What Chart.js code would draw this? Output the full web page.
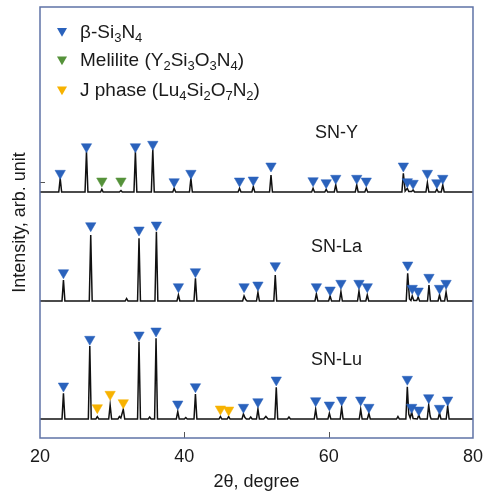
<!DOCTYPE html>
<html>
<head>
<meta charset="utf-8">
<script src="https://cdn.jsdelivr.net/npm/chart.js@4/dist/chart.umd.min.js"></script>
<style>
  html, body { margin: 0; padding: 0; background: #ffffff; }
  #wrap { width: 491px; height: 494px; position: relative; }
</style>
</head>
<body>
<div id="wrap"><canvas id="c"></canvas></div>
<script>
// ---------------- data (2θ in degrees, intensity in arbitrary offset units) ----------------
const xTickValues = [20, 40, 60, 80];
const yTickValues = [137, 256];

const sampleNames = ['SN-Y', 'SN-La', 'SN-Lu'];

// XRD traces: [2θ, intensity]
const traceSNY = [
  [20,246],[22.6,246],[22.8,259.7],[23.0,246],[26.24,246],[26.44,286.3],[26.64,246],
  [28.4,246],[28.57,248.7],[28.75,246],[31.0,246],[31.22,247.5],[31.4,246],
  [33.02,246],[33.22,286.3],[33.42,246],[35.43,246],[35.63,288.7],[35.83,246],
  [38.4,246],[38.59,249.7],[38.8,246],[40.71,246],[40.91,259.7],[41.11,246],
  [47.45,246],[47.65,249.7],[47.85,246],[49.36,246],[49.56,251.3],[49.76,246],
  [51.81,246],[52.01,263],[52.21,246],[57.64,246],[57.84,249.7],[58.04,246],
  [59.46,246],[59.66,248.7],[59.86,246],[60.78,246],[60.98,253],[61.18,246],
  [63.69,246],[63.89,253],[64.09,246],[65.01,246],[65.21,249.7],[65.41,246],
  [70.15,246],[70.35,264.7],[70.6,247],[70.9,249.7],[71.1,246.5],[71.5,246.5],[71.7,248],[71.9,246],
  [73.48,246],[73.68,255.3],[73.88,246],[74.8,246],[74.99,249],[75.2,246],
  [75.61,246],[75.81,253],[76.01,246],[80,246]
];
const traceSNLa = [
  [20,137],[23.05,137],[23.25,158],[23.45,137],[26.83,137],[27.03,203],[27.23,137],
  [31.8,137],[32.0,139.5],[32.2,137],
  [33.52,137],[33.72,199.7],[33.92,137],[35.93,137],[36.13,206.3],[36.33,137],
  [38.98,137],[39.18,143],[39.38,137],[41.34,137],[41.54,159.7],[41.74,137],
  [48.08,137],[48.28,142],[48.5,138.5],[48.7,137],[50.0,137],[50.2,145.7],[50.4,137],
  [52.4,137],[52.6,163],[52.8,137],[58.1,137],[58.3,144],[58.5,137],
  [60.0,137],[60.2,142],[60.4,137],[61.5,137],[61.7,146.3],[61.9,137],
  [64.0,137],[64.2,147],[64.4,137],[65.15,137],[65.35,143],[65.55,137],
  [70.75,137],[70.95,164.7],[71.2,139],[71.4,137.5],[71.58,142],[71.8,137.5],
  [72.2,137.5],[72.4,141],[72.6,137],[73.7,137],[73.9,153],[74.1,137],
  [75.16,137],[75.36,143],[75.56,137],[76.07,137],[76.27,146],[76.47,137],[80,137]
];
const traceSNLu = [
  [20,19],[23.05,19],[23.25,44.7],[23.45,19],[26.7,19],[26.9,92],[27.1,19],
  [27.75,19],[27.94,21.3],[28.15,19],[29.52,19],[29.72,33],[29.92,19],
  [30.8,19],[31.0,21.5],[31.2,20],[31.54,28.7],[31.74,19],
  [33.52,19],[33.72,96.3],[33.92,19],[35.0,19],[35.2,21],[35.4,19],
  [35.88,19],[36.08,99.7],[36.28,19],[38.89,19],[39.09,26.3],[39.29,19],
  [40.0,19],[40.2,20.5],[40.4,19],[41.34,19],[41.54,44],[41.74,19],
  [44.8,19],[45.0,21.5],[45.2,19],[45.94,19],[46.14,21.5],[46.34,19],
  [47.99,19],[48.19,24],[48.4,20.5],[48.6,19],[49.0,19],[49.2,21],[49.4,19],
  [50.0,19],[50.2,29],[50.4,19],[51.0,19],[51.3,21.5],[51.6,19],
  [52.54,19],[52.74,50.7],[52.94,19],[54.3,19],[54.5,21],[54.7,19],
  [58.0,19],[58.2,28.7],[58.4,19],[59.9,19],[60.1,24.7],[60.3,19],
  [61.6,19],[61.8,30.7],[62.0,19],[64.24,19],[64.44,28.7],[64.64,19],
  [65.37,19],[65.57,24.7],[65.77,19],[69.4,19],[69.6,21.5],[69.8,19],
  [70.7,19],[70.9,51.3],[71.1,24],[71.3,20],[71.5,26],[71.7,19.5],
  [72.29,19],[72.49,23],[72.69,19],[73.66,19],[73.86,33],[74.06,22],[74.2,19],
  [75.16,19],[75.36,25],[75.56,19],[76.29,19],[76.49,32],[76.69,19],[80,19]
];

// phase markers: [2θ, marker height]
const betaSNY = [
  [22.8,264.7],[26.44,291.3],[33.22,291.3],[35.63,293.7],[38.59,256.3],[40.91,264.7],
  [47.65,257],[49.56,258],[52.01,272],[57.84,257.3],[59.66,255.3],[60.98,259.7],
  [63.89,259.7],[65.21,257],[70.35,272],[70.9,256.3],[71.7,254.7],[73.68,264.7],
  [74.99,255.3],[75.81,259.7]
];
const meliliteSNY = [[28.57,257],[31.22,257]];
const betaSNLa = [
  [23.25,165.3],[27.03,212.3],[33.72,208],[36.13,213],[39.18,151.3],[41.54,166.3],
  [48.28,151.3],[50.2,153],[52.6,172.3],[58.3,151.3],[60.2,148],[61.7,154.7],
  [64.2,154.7],[65.35,151.3],[70.95,173],[71.58,149.7],[72.4,147],[73.9,160.7],
  [75.36,149.7],[76.27,154.7]
];
const betaSNLu = [
  [23.25,52],[26.9,98.7],[33.72,103],[36.08,107],[39.09,34],[41.54,51.3],
  [48.19,30.7],[50.2,36.3],[52.74,58],[58.2,37.3],[60.1,33],[61.8,38],
  [64.44,38],[65.57,30.7],[70.9,58.7],[71.5,30.7],[72.49,28],[73.86,40.3],
  [75.36,29.7],[76.49,38]
];
const jPhaseSNLu = [[27.94,30.3],[29.72,43.7],[31.54,35.3],[45.0,29],[46.14,28]];

// legend texts: segments of [text, isSubscript]
const legendTexts = [
  [['β-Si',0],['3',1],['N',0],['4',1]],
  [['Melilite (Y',0],['2',1],['Si',0],['3',1],['O',0],['3',1],['N',0],['4',1],[')',0]],
  [['J phase (Lu',0],['4',1],['Si',0],['2',1],['O',0],['7',1],['N',0],['2',1],[')',0]]
];

// ---------------- styles / placement ----------------
const FONT = '"Liberation Sans", Arial, Helvetica, sans-serif';
const TEXT_COLOR = '#1a1a1a';
const phaseColors = ['#2a62bc', '#55923a', '#f7b200'];
const sampleLabelAt = [[61.1, 305], [61.1, 191.3], [61.1, 78]];

const toXY = arr => arr.map(p => ({ x: p[0], y: p[1] }));

function trace(label, arr) {
  return {
    type: 'line', label, data: toXY(arr),
    borderColor: '#111111', borderWidth: 1.5, pointRadius: 0, tension: 0, fill: false, order: 2
  };
}
function markers(label, arr, color) {
  return {
    type: 'scatter', label, data: toXY(arr),
    pointStyle: 'triangle', rotation: 180, pointRadius: 6, pointHoverRadius: 6,
    backgroundColor: color, borderColor: color, borderWidth: 0.5, order: 1
  };
}

const overlay = {
  id: 'overlay',
  afterDraw(chart) {
    const { ctx, chartArea: a, scales: { x, y } } = chart;
    ctx.save();
    // inward tick marks
    ctx.strokeStyle = '#555555';
    ctx.lineWidth = 1;
    xTickValues.forEach(v => {
      if (v === x.min || v === x.max) return;
      const px = Math.round(x.getPixelForValue(v)) + 0.5;
      ctx.beginPath(); ctx.moveTo(px, a.bottom); ctx.lineTo(px, a.bottom - 6); ctx.stroke();
    });
    yTickValues.forEach(v => {
      const py = Math.round(y.getPixelForValue(v)) + 0.5;
      ctx.beginPath(); ctx.moveTo(a.left, py); ctx.lineTo(a.left + 5, py); ctx.stroke();
    });
    // frame
    ctx.strokeStyle = '#5f73a6';
    ctx.lineWidth = 1.5;
    ctx.strokeRect(a.left, a.top, a.right - a.left, a.bottom - a.top);
    // sample names
    ctx.fillStyle = TEXT_COLOR;
    ctx.font = '18px ' + FONT;
    ctx.textAlign = 'center';
    ctx.textBaseline = 'middle';
    sampleNames.forEach((n, i) => {
      ctx.fillText(n, x.getPixelForValue(sampleLabelAt[i][0]), y.getPixelForValue(sampleLabelAt[i][1]));
    });
    // legend
    const baselines = [30.5, 59, 89];
    ctx.textAlign = 'left';
    ctx.textBaseline = 'alphabetic';
    legendTexts.forEach((segs, i) => {
      const by = a.top + baselines[i];
      const tx = a.left + 22, ty = by - 6.5, r = 5.8;
      ctx.fillStyle = phaseColors[i];
      ctx.beginPath();
      ctx.moveTo(tx - r * 0.866, ty - r * 0.5);
      ctx.lineTo(tx + r * 0.866, ty - r * 0.5);
      ctx.lineTo(tx, ty + r);
      ctx.closePath();
      ctx.fill();
      let cx = a.left + 40;
      ctx.fillStyle = TEXT_COLOR;
      segs.forEach(([t, sub]) => {
        ctx.font = (sub ? '13px ' : '19px ') + FONT;
        ctx.fillText(t, cx, sub ? by + 4 : by);
        cx += ctx.measureText(t).width;
      });
    });
    ctx.restore();
  }
};

new Chart(document.getElementById('c'), {
  data: {
    datasets: [
      trace('SN-Y', traceSNY),
      trace('SN-La', traceSNLa),
      trace('SN-Lu', traceSNLu),
      markers('β-Si3N4 (SN-Y)', betaSNY, phaseColors[0]),
      markers('Melilite (SN-Y)', meliliteSNY, phaseColors[1]),
      markers('β-Si3N4 (SN-La)', betaSNLa, phaseColors[0]),
      markers('β-Si3N4 (SN-Lu)', betaSNLu, phaseColors[0]),
      markers('J phase (SN-Lu)', jPhaseSNLu, phaseColors[2])
    ]
  },
  options: {
    responsive: true,
    maintainAspectRatio: false,
    animation: false,
    events: [],
    layout: { padding: { top: 7, right: 12, left: 0, bottom: 0 } },
    plugins: { legend: { display: false }, tooltip: { enabled: false } },
    scales: {
      x: {
        type: 'linear', min: 20, max: 80,
        afterBuildTicks: s => { s.ticks = xTickValues.map(v => ({ value: v })); },
        afterFit: s => { s.height = 56; },
        ticks: { font: { size: 18, family: FONT }, color: TEXT_COLOR, padding: 8, maxRotation: 0, autoSkip: false },
        grid: { display: false, drawTicks: false },
        border: { display: false },
        title: { display: true, text: '2θ, degree', font: { size: 18, family: FONT }, color: TEXT_COLOR, padding: { top: 0, bottom: 1 } }
      },
      y: {
        type: 'linear', min: 0, max: 431,
        afterBuildTicks: s => { s.ticks = yTickValues.map(v => ({ value: v })); },
        afterFit: s => { s.width = 40; },
        ticks: { display: false },
        grid: { display: false, drawTicks: false },
        border: { display: false },
        title: { display: true, text: 'Intensity, arb. unit', font: { size: 18, family: FONT }, color: TEXT_COLOR, padding: { top: 9, bottom: 0 } }
      }
    }
  },
  plugins: [overlay]
});
</script>
</body>
</html>
